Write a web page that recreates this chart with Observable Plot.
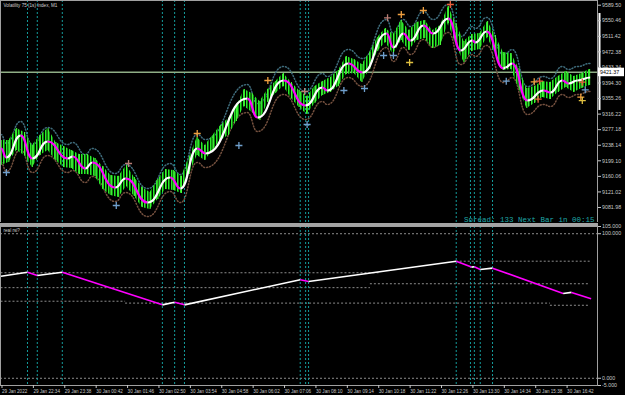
<!DOCTYPE html>
<html><head><meta charset="utf-8">
<script src="https://cdn.jsdelivr.net/npm/d3@7"></script>
<script src="https://cdn.jsdelivr.net/npm/@observablehq/plot@0.6"></script>
<style>
html,body{margin:0;padding:0;background:#000;}
#wrap{position:relative;width:625px;height:395px;background:#000;overflow:hidden;}
#main{position:absolute;left:0;top:0;}
#lower{position:absolute;left:0;top:222px;}
#sep{position:absolute;left:0;top:223px;width:598px;height:3px;background:#a4a4a4;}
svg{background:transparent !important;}
</style></head>
<body><div id="wrap"><div id="main"></div><div id="lower"></div><div id="sep"></div></div>
<script>
// ---------- data ----------
const mainTitle = "Volatility 75 (1s) Index, M1";
const lowerTitle = "real rsi?";
const spreadText = "Spread: 133 Next Bar in 00:15";
// minutes since 29 Jan 21:30
const timeTicks = [0,64,128,192,256,320,384,448,512,576,640,704,768,832,896,960,1024,1088,1152];
const timeLabels = ["29 Jan 2022","29 Jan 22:34","29 Jan 23:38","30 Jan 00:42","30 Jan 01:46","30 Jan 02:50","30 Jan 03:54","30 Jan 04:58","30 Jan 06:02","30 Jan 07:06","30 Jan 08:10","30 Jan 09:14","30 Jan 10:18","30 Jan 11:22","30 Jan 12:26","30 Jan 13:30","30 Jan 14:34","30 Jan 15:38","30 Jan 16:42"];
const priceTicks = [9589.50,9550.46,9511.42,9472.38,9433.34,9394.30,9355.26,9316.22,9277.18,9238.14,9199.10,9160.06,9121.02,9081.98];
const rsiTicks = [105,100,0,-5];
const currentPrice = 9421.37;
const rangeHigh = 9568.7, rangeLow = 9325.4;
const sessionTimes = [54,74,125,329,354,374,610,621,627,928,957,965,977,1002];

const trendT = [0,11,40,64,95,136,146,172,186,233,254,299,345,366,400,417,502,523,576,621,655,665,708,737,786,800,820,835,861,881,912,937,961,967,990,1024,1028,1042,1073,1106,1120,1144,1157,1175,1201];
const trendP = [9230.0,9207.4,9262.6,9204.9,9247.5,9204.9,9209.9,9179.8,9194.8,9132.1,9154.7,9094.5,9157.2,9129.6,9230.0,9217.4,9355.4,9307.7,9400.6,9337.9,9383.0,9375.5,9443.2,9420.7,9518.5,9483.4,9518.5,9500.9,9538.6,9518.5,9556.1,9475.8,9500.9,9495.9,9523.5,9430.7,9433.2,9443.2,9350.4,9375.5,9370.5,9400.6,9393.1,9400.6,9408.1];

const barT = [0,16,32,48,64,80,96,112,128,144,160,176,192,208,224,240,256,272,288,304,320,336,352,368,384,400,416,432,448,464,480,496,512,528,544,560,576,592,608,624,640,656,672,688,704,720,736,752,768,784,800,816,832,848,864,880,896,912,928,944,960,976,992,1008,1024,1040,1056,1072,1088,1104,1120,1136,1152,1168,1184,1200];
const barHigh = [9250.0,9250.0,9280.1,9270.1,9237.5,9262.6,9280.1,9245.0,9235.0,9224.9,9214.9,9214.9,9204.9,9184.8,9162.2,9159.7,9187.3,9157.2,9132.1,9119.6,9152.2,9177.3,9174.8,9159.7,9207.4,9257.6,9237.5,9262.6,9287.7,9305.2,9335.3,9378.0,9368.0,9347.9,9378.0,9398.1,9418.1,9395.6,9375.5,9360.4,9385.5,9398.1,9408.1,9425.7,9460.8,9453.3,9440.7,9470.8,9508.5,9531.0,9516.0,9551.1,9526.0,9546.1,9551.1,9526.0,9538.6,9586.2,9543.6,9498.4,9516.0,9518.5,9548.6,9513.5,9470.8,9468.3,9430.7,9380.5,9385.5,9398.1,9395.6,9410.6,9423.2,9410.6,9418.1,9428.2];
const barLow = [9187.3,9194.8,9224.9,9212.4,9182.3,9212.4,9224.9,9199.9,9182.3,9179.8,9164.7,9164.7,9159.7,9127.1,9112.0,9107.0,9134.6,9109.5,9081.9,9076.9,9102.0,9127.1,9124.6,9117.1,9164.7,9212.4,9199.9,9224.9,9250.0,9262.6,9297.7,9335.3,9320.3,9300.2,9345.4,9368.0,9385.5,9355.4,9332.8,9315.3,9342.9,9362.9,9370.5,9385.5,9415.6,9418.1,9395.6,9428.2,9473.3,9495.9,9465.8,9500.9,9475.8,9500.9,9506.0,9480.9,9488.4,9543.6,9488.4,9445.7,9473.3,9478.4,9508.5,9465.8,9425.7,9428.2,9380.5,9330.3,9342.9,9357.9,9352.9,9370.5,9383.0,9370.5,9380.5,9388.0];

const signalT = [11,235,260,400,485,544,619,624,699,741,780,800,788,816,861,916,833,1030,1087,1098,1095,1185,1191,1182,1185];
const signalP = [9169.8,9087.0,9192.3,9267.6,9237.5,9400.6,9373.0,9290.2,9375.5,9380.5,9463.3,9463.3,9557.9,9566.2,9576.2,9591.3,9445.7,9398.8,9397.3,9398.8,9353.7,9396.3,9377.2,9358.7,9350.2];
const signalKind = ["buy","buy","exit","sell","buy","sell","exit","buy","buy","buy","buy","buy","exit","sell","sell","alert","warn","buy","sell","alert","alert","alert","buy","sell","warn"];

const rsiT = [0,54,74,125,329,354,374,610,627,928,959,965,977,1002,1146,1163,1203];
const rsiV = [70.6,73.4,71.1,73.4,50.8,52.6,50.8,68.2,67.0,81.0,76.9,77.1,75.3,76.2,58.7,59.4,55.0];

const levelValue = [100,0,73,81,62.7,65.4,53.3,52,50.5];
const levelStart = [-1,-1,0,928,0,753,0,254,1120];
const levelEnd = [1216,1216,774,1201,753,1201,254,1120,1201];

// ---------- tables ----------
const trendSeg = trendT.slice(1).map((t, i) => ({t1: trendT[i], p1: trendP[i], t2: t, p2: trendP[i + 1], up: trendP[i + 1] >= trendP[i]}));
const trend = trendT.map((t, i) => ({t, p: trendP[i]}));
const bars = barT.map((t, i) => ({t, hi: barHigh[i], lo: barLow[i]}));
const signals = signalT.map((t, i) => ({t, p: signalP[i], kind: signalKind[i]}));
const rsiSeg = rsiT.slice(1).map((t, i) => ({t1: rsiT[i], v1: rsiV[i], t2: t, v2: rsiV[i + 1], up: rsiV[i + 1] >= rsiV[i]}));
const levels = levelValue.map((v, i) => ({v, a: levelStart[i], b: levelEnd[i]}));
const kindColor = {buy: "#6f9fcc", sell: "#f0a040", exit: "#b87c74", alert: "#e8603c", warn: "#e0c040"};

const font = "Liberation Sans, Arial, sans-serif";
const axisColor = "#c8c8c8";
const xDomain = [-1, 1216];

const main = Plot.plot({
  width: 625, height: 222, marginTop: 0, marginBottom: 0, marginLeft: 0, marginRight: 28,
  style: {background: "transparent", color: axisColor, fontFamily: font, fontSize: "5.3px"},
  x: {domain: xDomain, axis: null},
  y: {domain: [9044.3, 9601.3], axis: null},
  marks: [
    Plot.ruleX(sessionTimes, {stroke: "#149c9c", strokeDasharray: "2,2"}),
    Plot.ruleY([currentPrice], {stroke: "#8fae86", strokeWidth: 1.6}),
    Plot.line(trend, {x: "t", y: "p", curve: "bump-x", dy: -14, stroke: "#3f6c7c", strokeDasharray: "1,2"}),
    Plot.line(trend, {x: "t", y: "p", curve: "bump-x", dy: 14, stroke: "#74503e", strokeDasharray: "1,2"}),
    Plot.areaY(bars, {x: "t", y1: "lo", y2: "hi", fill: "#0e8e0e"}),
    Plot.ruleX(bars, {x: "t", y1: "lo", y2: "hi", stroke: "#48ff38", strokeWidth: 1}),
    Plot.link(trendSeg, {x1: "t1", y1: "p1", x2: "t2", y2: "p2", curve: "bump-x", stroke: d => d.up ? "#ffffff" : "#ff00ff", strokeWidth: 2.2}),
    Plot.dot(signals, {x: "t", y: "p", symbol: "plus", r: 2.4, stroke: d => kindColor[d.kind], strokeWidth: 1.3}),
    Plot.ruleX([xDomain[1]], {y1: rangeHigh, y2: rangeLow, stroke: "#ffffff", strokeWidth: 2, dx: 2}),
    Plot.frame({stroke: "#a0a0a0"}),
    Plot.axisY({ticks: priceTicks, anchor: "right", tickSize: 3, tickPadding: 1.5, tickFormat: d => d.toFixed(2), fill: axisColor}),
    Plot.text([mainTitle], {frameAnchor: "top-left", dx: 3, dy: 3, textAnchor: "start", lineAnchor: "top", fill: "#d0d0d0", fontSize: 4.6}),
    Plot.text([spreadText], {frameAnchor: "bottom-right", dx: -3, dy: -1, textAnchor: "end", lineAnchor: "bottom", fill: "#1fa8a8", fontSize: 7.5, fontFamily: "Liberation Mono, monospace"})
  ]
});
document.getElementById("main").appendChild(main);
{
  const s = d3.select(main);
  // spiky green texture for the tick band
  const pat = s.insert("defs", ":first-child").append("pattern")
    .attr("id", "gstripe").attr("patternUnits", "userSpaceOnUse").attr("width", 3).attr("height", 7);
  pat.append("rect").attr("x", 0).attr("width", 1).attr("height", 7).attr("fill", "#2ee82e");
  pat.append("rect").attr("x", 1).attr("width", 1).attr("height", 7).attr("fill", "#0a8a0a");
  s.selectAll("g[aria-label='area']").attr("fill", "url(#gstripe)");
  s.selectAll("g[aria-label='area'] path").attr("fill", "url(#gstripe)");
  // current price tag on the right axis
  const py = main.scale("y").apply(currentPrice);
  s.append("rect").attr("x", 598).attr("y", py - 4).attr("width", 26).attr("height", 8.5).attr("fill", "#ffffff");
  s.append("text").attr("x", 600).attr("y", py + 2).attr("text-anchor", "start").attr("fill", "#000")
    .attr("font-size", 5.3).attr("font-family", font).text(currentPrice.toFixed(2));
}

const lower = Plot.plot({
  width: 625, height: 173, marginTop: 4, marginBottom: 10, marginLeft: 0, marginRight: 28,
  style: {background: "transparent", color: axisColor, fontFamily: font, fontSize: "5.3px"},
  x: {domain: xDomain, axis: null},
  y: {domain: [-5, 105], axis: null},
  marks: [
    Plot.ruleY(levels, {y: "v", x1: "a", x2: "b", stroke: "#8c8c8c", strokeDasharray: "2,2"}),
    Plot.ruleX(sessionTimes, {stroke: "#149c9c", strokeDasharray: "2,2"}),
    Plot.link(rsiSeg, {x1: "t1", y1: "v1", x2: "t2", y2: "v2", stroke: d => d.up ? "#ffffff" : "#ff00ff", strokeWidth: 1.6}),
    Plot.frame({stroke: "#a0a0a0"}),
    Plot.axisY({ticks: rsiTicks, anchor: "right", tickSize: 3, tickPadding: 1.5, tickFormat: d => d.toFixed(3), fill: axisColor}),
    Plot.axisX({ticks: timeTicks, anchor: "bottom", tickSize: 3, tickPadding: 1, textAnchor: "start", dx: 1, fontSize: 4.6, tickFormat: d => timeLabels[timeTicks.indexOf(d)], fill: axisColor}),
    Plot.text([lowerTitle], {frameAnchor: "top-left", dx: 3, dy: 2, textAnchor: "start", lineAnchor: "top", fill: "#d0d0d0", fontSize: 4.6})
  ]
});
document.getElementById("lower").appendChild(lower);
</script>
</body></html>
